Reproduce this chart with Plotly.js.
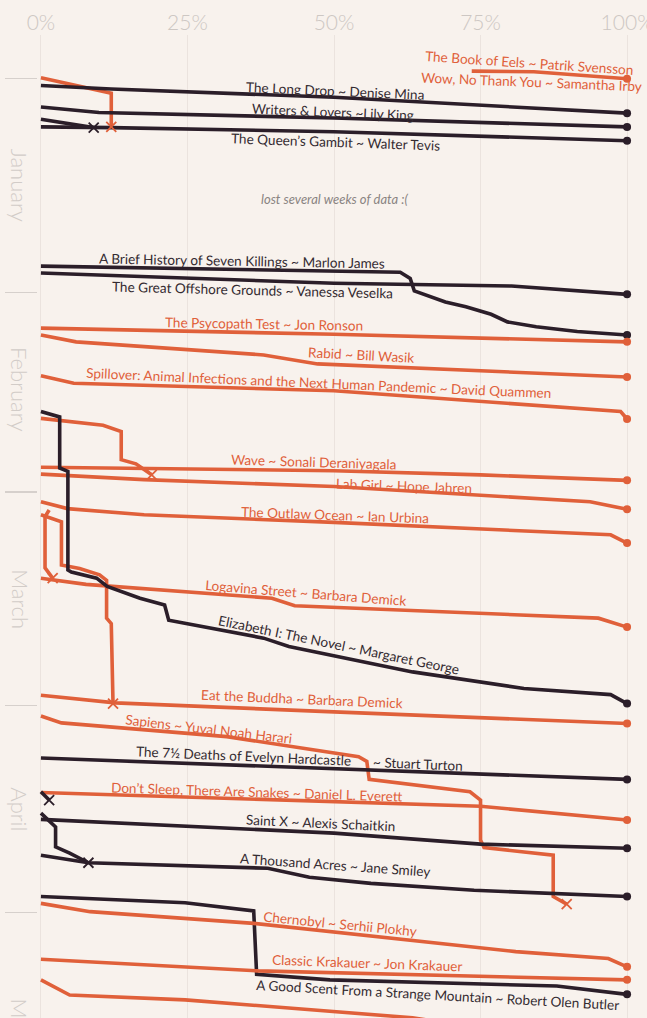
<!DOCTYPE html>
<html><head><meta charset="utf-8">
<script src="https://cdn.plot.ly/plotly-3.0.1.min.js"></script>
<style>html,body{margin:0;padding:0;background:#f8f2ed;overflow:hidden;}#chart{width:647px;height:1060px;}</style>
</head><body><div id="chart"></div>
<script>
// ---------- DATA ----------
// x: percent of the book read; y: days since 1 Jan 2020
const xTickVals = [0, 25, 50, 75, 100];
const xTickText = ['0%', '25%', '50%', '75%', '100%'];
const monthStarts = [0, 31, 60, 91, 121];
const monthMids = [15.5, 45, 75.5, 106, 136.5];
const monthNames = ['January', 'February', 'March', 'April', 'May'];
const gapNote = 'lost several weeks of data :(';
const gapNoteAt = [50, 17.4];

const eels_pct = [73.5, 84.1, 100];              const eels_day = [-1.1, -1.0, 0.0];
const wow_pct = [0, 12.0, 12.0];                 const wow_day = [-0.15, 2.1, 7.0];
const longDrop_pct = [0, 12, 50, 75, 100];       const longDrop_day = [1.0, 1.5, 2.7, 3.8, 5.0];
const writers_pct = [0, 9.9, 50, 100];           const writers_day = [4.1, 4.9, 5.7, 7.0];
const janDropped_pct = [0, 9.0];                 const janDropped_day = [5.9, 7.1];
const queens_pct = [0, 12, 50, 75, 100];         const queens_day = [7.0, 7.1, 7.7, 8.4, 9.0];
const brief_pct = [0, 61.3, 63.0, 63.7, 69.0, 72.5, 76.8, 79.6, 84.5, 91.5, 100];
const brief_day = [27.2, 28.1, 29.0, 30.8, 32.4, 33.1, 34.2, 35.3, 36.0, 36.7, 37.2];
const offshore_pct = [0, 50, 80.3, 100];         const offshore_day = [28.2, 29.7, 30.1, 31.3];
const psycho_pct = [0, 50, 100];                 const psycho_day = [36.2, 37.1, 38.2];
const rabid_pct = [0, 6, 38, 47.2, 100];         const rabid_day = [37.2, 38.2, 40.1, 41.4, 43.3];
const spill_pct = [0, 5.6, 50, 76.1, 98.9, 100]; const spill_day = [43.1, 44.2, 45.3, 46.9, 48.3, 49.4];
const eliz_pct = [0, 3.2, 3.2, 4.6, 4.6, 5.2, 9.5, 11.3, 16.9, 21.1, 21.8, 38.0, 42.3, 50.7, 63.4, 82.4, 97.2, 100];
const eliz_day = [48.3, 49.1, 56.5, 57.0, 71.3, 71.6, 72.5, 73.7, 75.4, 76.4, 78.6, 81.2, 82.4, 83.9, 86.1, 88.5, 89.4, 90.7];
const febDropped_pct = [0, 10.6, 13.7, 13.7, 16.2, 18.9]; const febDropped_day = [49.3, 50.3, 51.2, 55.3, 55.9, 57.5];
const wave_pct = [0, 50, 75, 100];               const wave_day = [56.4, 56.9, 57.5, 58.3];
const labGirl_pct = [0, 17.6, 50, 93.7, 100];    const labGirl_day = [57.4, 58.2, 59.2, 61.4, 62.5];
const outlaw_pct = [0, 4.5, 17.6, 50, 97.2, 100]; const outlaw_day = [61.4, 62.4, 63.3, 64.4, 66.2, 67.4];
const marDroppedA_pct = [0, 3.5, 3.5, 6.6, 10.0, 11.2, 11.2, 12.0, 12.3];
const marDroppedA_day = [63.3, 64.3, 70.6, 71.1, 72.0, 72.8, 78.3, 79.1, 90.7];
const marDroppedB_pct = [1.4, 0.7, 0.7, 2.0];    const marDroppedB_day = [62.6, 63.6, 71.0, 72.5];
const logavina_pct = [0, 7.7, 39.4, 43.3, 95.1, 100]; const logavina_day = [72.5, 73.4, 75.4, 76.5, 78.3, 79.6];
const buddha_pct = [0, 12.7, 50, 100];           const buddha_day = [89.5, 90.6, 91.9, 93.6];
const sapiens_pct = [0, 3.5, 31.7, 54.2, 55.6, 56.0, 73.2, 75.0, 75.0, 75.6, 87.4, 87.4, 89.7];
const sapiens_day = [92.5, 93.5, 95.5, 98.4, 99.1, 101.7, 103.5, 104.7, 110.5, 111.6, 112.7, 118.7, 119.8];
const evelyn_pct = [0, 50, 100];                 const evelyn_day = [98.6, 100.1, 101.7];
const dontSleep_pct = [0, 75, 100];              const dontSleep_day = [103.6, 105.6, 107.6];
const aprDroppedA_pct = [0, 1.4];                const aprDroppedA_day = [103.5, 104.7];
const aprDroppedB_pct = [0, 2.5, 2.5, 4.9, 8.1]; const aprDroppedB_day = [106.6, 108.6, 111.5, 112.4, 113.8];
const saintX_pct = [0, 50, 75, 100];             const saintX_day = [107.5, 109.5, 111.1, 111.7];
const acres_pct = [0, 8.1, 38.7, 42.3, 45.8, 56.3, 73.9, 100];
const acres_day = [112.7, 113.8, 114.6, 115.3, 115.9, 116.8, 117.8, 118.7];
const scent_pct = [0, 24.6, 36.3, 36.8, 49.3, 88.0, 100]; const scent_day = [118.7, 119.6, 120.8, 130.0, 130.8, 131.7, 132.9];
const chern_pct = [0, 8.4, 36.3, 81.0, 96.8, 100]; const chern_day = [119.7, 120.9, 122.6, 126.7, 127.7, 128.9];
const krak_pct = [0, 37.0, 100];                 const krak_day = [127.8, 129.5, 130.8];
const mayBook_pct = [0, 4.9, 24.6, 63.4, 80];    const mayBook_day = [130.8, 133.0, 133.7, 136.3, 138.5];

// [progress, dates, genre, outcome]
const books = [
  [eels_pct, eels_day, 'nonfiction', 'finished'],
  [wow_pct, wow_day, 'nonfiction', 'abandoned'],
  [longDrop_pct, longDrop_day, 'fiction', 'finished'],
  [writers_pct, writers_day, 'fiction', 'finished'],
  [janDropped_pct, janDropped_day, 'fiction', 'abandoned'],
  [queens_pct, queens_day, 'fiction', 'finished'],
  [brief_pct, brief_day, 'fiction', 'finished'],
  [offshore_pct, offshore_day, 'fiction', 'finished'],
  [psycho_pct, psycho_day, 'nonfiction', 'finished'],
  [rabid_pct, rabid_day, 'nonfiction', 'finished'],
  [spill_pct, spill_day, 'nonfiction', 'finished'],
  [febDropped_pct, febDropped_day, 'nonfiction', 'abandoned'],
  [wave_pct, wave_day, 'nonfiction', 'finished'],
  [labGirl_pct, labGirl_day, 'nonfiction', 'finished'],
  [outlaw_pct, outlaw_day, 'nonfiction', 'finished'],
  [marDroppedA_pct, marDroppedA_day, 'nonfiction', 'abandoned'],
  [marDroppedB_pct, marDroppedB_day, 'nonfiction', 'abandoned'],
  [logavina_pct, logavina_day, 'nonfiction', 'finished'],
  [eliz_pct, eliz_day, 'fiction', 'finished'],
  [buddha_pct, buddha_day, 'nonfiction', 'finished'],
  [sapiens_pct, sapiens_day, 'nonfiction', 'abandoned'],
  [evelyn_pct, evelyn_day, 'fiction', 'finished'],
  [dontSleep_pct, dontSleep_day, 'nonfiction', 'finished'],
  [aprDroppedA_pct, aprDroppedA_day, 'fiction', 'abandoned'],
  [aprDroppedB_pct, aprDroppedB_day, 'fiction', 'abandoned'],
  [saintX_pct, saintX_day, 'fiction', 'finished'],
  [acres_pct, acres_day, 'fiction', 'finished'],
  [scent_pct, scent_day, 'fiction', 'finished'],
  [chern_pct, chern_day, 'nonfiction', 'finished'],
  [krak_pct, krak_day, 'nonfiction', 'finished'],
  [mayBook_pct, mayBook_day, 'nonfiction', 'reading']
];

const labelTexts = [
  'The Book of Eels ~ Patrik Svensson',
  'Wow, No Thank You ~ Samantha Irby',
  'The Long Drop ~ Denise Mina',
  'Writers & Lovers ~Lily King',
  'The Queen\u2019s Gambit ~ Walter Tevis',
  'A Brief History of Seven Killings ~ Marlon James',
  'The Great Offshore Grounds ~ Vanessa Veselka',
  'The Psycopath Test ~ Jon Ronson',
  'Rabid ~ Bill Wasik',
  'Spillover: Animal Infections and the Next Human Pandemic ~ David Quammen',
  'Wave ~ Sonali Deraniyagala',
  'Lab Girl ~ Hope Jahren',
  'The Outlaw Ocean ~ Ian Urbina',
  'Logavina Street ~ Barbara Demick',
  'Elizabeth I: The Novel ~ Margaret George',
  'Eat the Buddha ~ Barbara Demick',
  'Sapiens ~ Yuval Noah Harari',
  'The 7\u00BD Deaths of Evelyn Hardcastle',
  '~ Stuart Turton',
  'Don\u2019t Sleep, There Are Snakes ~ Daniel L. Everett',
  'Saint X ~ Alexis Schaitkin',
  'A Thousand Acres ~ Jane Smiley',
  'Chernobyl ~ Serhii Plokhy',
  'Classic Krakauer ~ Jon Krakauer',
  'A Good Scent From a Strange Mountain ~ Robert Olen Butler'
];
const labelGenre = ['nonfiction','nonfiction','fiction','fiction','fiction','fiction','fiction','nonfiction','nonfiction','nonfiction',
  'nonfiction','nonfiction','nonfiction','nonfiction','fiction','nonfiction','nonfiction','fiction','fiction','nonfiction',
  'fiction','fiction','nonfiction','nonfiction','fiction'];

// ---------- PLACEMENT / STYLE ----------
// label anchor [x, y, angle] in axis units
const labelPlace = [
  [83.3, -2.3, 3.8], [83.7, 0.55, 2.3], [50.2, 1.8, 2.5], [49.8, 4.8, 2.4], [50.3, 9.2, 2.0],
  [34.3, 26.4, 1.0], [36.1, 30.7, 1.4], [38.1, 35.6, 1.0], [54.6, 40.1, 3.0], [47.5, 44.2, 2.5],
  [46.5, 55.7, 1.7], [62.0, 59.1, 2.0], [50.1, 63.3, 2.0], [45.2, 74.6, 4.5], [50.9, 82.2, 11.7],
  [44.5, 90.0, 2.4], [28.6, 94.4, 6.6], [34.5, 98.3, 2.5], [64.4, 99.5, 2.5], [36.9, 103.5, 1.8],
  [47.7, 108.0, 2.6], [50.2, 114.1, 4.0], [51.1, 122.7, 5.6], [55.6, 128.4, 2.0], [67.6, 133.0, 3.2]
];
const COLORS = {fiction: '#2b1e29', nonfiction: '#e0603a'};
const TEXTCOLORS = {fiction: '#342b31', nonfiction: '#e0603a'};
const BG = '#f8f2ed';
const FONT = 'Lato, "Open Sans", sans-serif';

const traces = [];
books.forEach(b => {
  traces.push({type: 'scatter', mode: 'lines', x: b[0], y: b[1], hoverinfo: 'skip',
    line: {color: COLORS[b[2]], width: 3.6}, cliponaxis: true});
});
['fiction', 'nonfiction'].forEach(g => {
  const fin = books.filter(b => b[2] === g && b[3] === 'finished');
  traces.push({type: 'scatter', mode: 'markers', hoverinfo: 'skip', cliponaxis: false,
    x: fin.map(b => b[0][b[0].length - 1]), y: fin.map(b => b[1][b[1].length - 1]),
    marker: {symbol: 'circle', size: 8, color: COLORS[g]}});
  const ab = books.filter(b => b[2] === g && b[3] === 'abandoned');
  traces.push({type: 'scatter', mode: 'markers', hoverinfo: 'skip', cliponaxis: false,
    x: ab.map(b => b[0][b[0].length - 1]), y: ab.map(b => b[1][b[1].length - 1]),
    marker: {symbol: 'x-thin', size: 10, color: COLORS[g], line: {color: COLORS[g], width: 1.8}}});
});

const annotations = [];
labelTexts.forEach((t, i) => {
  const p = labelPlace[i];
  annotations.push({xref: 'x', yref: 'y', x: p[0], y: p[1], text: t, showarrow: false,
    textangle: p[2], xanchor: 'center', yanchor: 'middle',
    font: {family: FONT, size: 13.6, color: TEXTCOLORS[labelGenre[i]]}});
});
annotations.push({xref: 'x', yref: 'y', x: gapNoteAt[0], y: gapNoteAt[1], text: '<i>' + gapNote + '</i>',
  showarrow: false, font: {family: FONT, size: 13, color: '#8a8482'}});
monthNames.forEach((m, i) => {
  annotations.push({xref: 'paper', yref: 'y', x: -0.031, y: monthMids[i], text: m, showarrow: false,
    textangle: 90, xanchor: 'center', yanchor: 'middle',
    font: {family: FONT, size: 22, color: '#d2ccc8', weight: 300}});
});

const layout = {
  width: 647, height: 1060,
  paper_bgcolor: BG, plot_bgcolor: BG,
  margin: {l: 38.37, r: 16.77, t: 35, b: 0},
  showlegend: false,
  xaxis: {range: [-0.5, 100.5], side: 'top', tickvals: xTickVals, ticktext: xTickText,
    tickfont: {family: FONT, size: 21, color: '#cdc7c3', weight: 300}, ticks: '', ticklabeloverflow: 'allow',
    showgrid: true, gridcolor: '#ebe3de', gridwidth: 1, zeroline: false, showline: false, fixedrange: true},
  yaxis: {range: [142.43, -6.34], tickvals: monthStarts, showticklabels: false, ticks: 'outside',
    ticklen: 32, tickwidth: 1.5, tickcolor: '#d6d0cc', showgrid: false, zeroline: false, showline: false, fixedrange: true},
  annotations: annotations
};
Plotly.newPlot('chart', traces, layout, {displayModeBar: false, staticPlot: true});
</script>
</body></html>
